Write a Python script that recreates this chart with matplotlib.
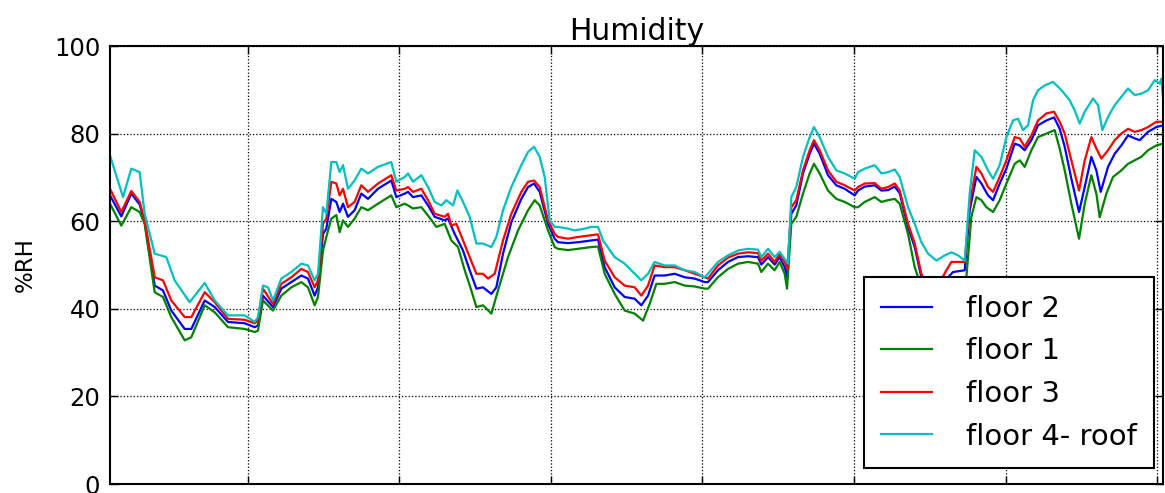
import matplotlib
matplotlib.use("Agg")
import matplotlib.pyplot as plt

# hours from start of record, %RH readings
t_floor2 = [2.14, 3.93, 5.51, 6.84, 7.63, 9.22, 10.53, 11.85, 13.97, 15.02, 17.14, 18.73, 20.83, 23.48, 25.06,
            25.58, 26.37, 27.96, 29.28, 30.86, 32.45, 33.5, 34.56, 35.09, 35.88, 36.41, 37.2, 37.99, 38.52, 39.05,
            39.84, 40.89, 41.95, 43.01, 44.59, 46.7, 47.5, 48.82,
            49.35, 50.14, 51.46, 52.52, 53.57, 55.16, 55.69, 56.74, 58.06, 59.12, 60.18, 61.23, 62.55, 63.34,
            64.4, 65.72, 67.3, 68.36, 69.31, 70.21, 71.53, 72.58,
            73.11, 74.7, 76.28, 78.39, 79.45, 80.5, 82.09, 83.67, 85.26, 86.31, 87.37, 88.42, 90.01, 91.59,
            93.18, 94.76, 96.35,
            96.87, 98.45, 100.04, 101.62, 103.21, 104.79, 105.32, 106.38, 107.43, 108.22, 109.02, 109.44,
            110.07, 110.86, 111.92, 112.98, 113.66, 114.56, 115.88, 117.2, 118.52, 120.11,
            120.64, 121.7, 123.28, 124.34, 125.39, 126.45, 127.24, 128.56, 129.62, 130.67, 132.5, 134.9,
            135.69, 137.54, 138.33, 139.39, 140.18, 141.23, 142.03, 143.08, 144.14,
            145.46, 146.25, 147.04, 148.1, 149.15, 150.47, 151.69, 152.58, 153.38, 154.43, 155.65, 156.55,
            157.6, 158.39, 159.08, 160.24, 161.3, 162.35, 163.41, 164.47, 165.26, 166.58, 167.9, 168.96]
floor2 = [65.9, 61.1, 66.3, 63.8, 59.8, 45.3, 44.2, 39.6, 35.4, 35.4, 41.9, 40.4, 37.0, 36.7, 35.8,
          36.2, 43.0, 40.4, 44.6, 46.1, 47.6, 46.9, 43.0, 44.9, 57.1, 58.3, 65.1, 64.4, 62.1, 64.0,
          61.0, 62.5, 66.3, 65.1, 67.4, 69.3, 65.5, 66.3,
          66.7, 65.5, 65.9, 63.6, 61.0, 60.2, 60.6, 57.1, 53.3, 48.8, 44.6, 44.9, 43.4, 44.9,
          52.6, 59.8, 65.1, 67.8, 68.6, 66.7, 59.4, 56.0,
          55.2, 55.0, 55.2, 55.6, 55.8, 49.5, 44.9, 42.7, 42.3, 40.8, 43.0, 47.6, 47.6, 48.0,
          47.2, 46.9, 46.1,
          46.1, 48.8, 50.7, 51.8, 52.0, 51.8, 50.1, 51.8, 50.1, 51.8, 49.5, 47.2,
          61.7, 63.6, 70.9, 75.4, 77.7, 75.4, 70.5, 68.2, 67.4, 65.9,
          67.0, 67.9, 68.2, 67.0, 67.1, 67.9, 66.4, 58.6, 54.1, 47.2, 42.0, 47.2,
          48.4, 48.8, 62.5, 70.1, 68.6, 65.9, 64.8, 68.6, 72.0,
          77.7, 77.3, 76.2, 78.5, 81.9, 83.0, 83.7, 81.1, 77.0, 69.7, 62.1, 67.8,
          74.7, 71.6, 66.7, 72.4, 75.4, 77.3, 79.6, 78.9, 78.5, 80.4, 81.5, 81.9]

t_floor1 = [2.14, 3.93, 5.51, 6.84, 7.63, 9.22, 10.53, 11.85, 13.97, 15.02, 17.14, 18.73, 20.83, 23.48, 25.06,
            25.58, 26.37, 27.96, 29.28, 30.86, 32.45, 33.5, 34.56, 35.09, 35.88, 36.41, 37.2, 37.99, 38.52, 39.05,
            39.84, 40.89, 41.95, 43.01, 44.59, 46.7, 47.5, 48.82,
            49.35, 50.14, 51.46, 52.52, 53.84, 55.16, 56.21, 57.27, 58.33, 59.38, 60.18, 61.23, 62.55, 63.61,
            65.19, 66.78, 68.36, 69.42, 70.21, 71.53, 72.58,
            73.11, 74.7, 76.28, 78.39, 79.45, 80.5, 82.09, 83.67, 85.26, 86.58, 87.63, 88.69, 90.01, 91.59,
            93.18, 94.76, 96.35,
            96.87, 98.45, 100.04, 101.62, 103.21, 104.79, 105.32, 106.38, 107.43, 108.22, 109.02, 109.39,
            110.07, 110.86, 111.92, 112.98, 113.66, 114.56, 115.88, 117.2, 118.52, 120.11,
            120.64, 121.7, 123.28, 124.34, 125.39, 126.45, 127.24, 128.56, 129.62, 130.15, 132.5, 136.0,
            137.8, 138.59, 139.39, 140.18, 140.97, 142.03, 143.08, 144.14,
            145.46, 146.25, 147.04, 148.1, 149.15, 150.47, 151.79, 152.58, 153.38, 154.43, 155.65, 156.55,
            157.6, 158.39, 158.92, 159.98, 161.03, 162.35, 163.41, 164.47, 165.52, 166.58, 167.9, 168.96]
floor1 = [64.0, 59.0, 63.2, 62.1, 59.4, 43.8, 42.7, 38.1, 32.8, 33.5, 40.8, 39.2, 35.8, 35.4, 34.7,
          35.0, 41.9, 39.6, 43.0, 44.9, 46.1, 44.9, 40.8, 42.7, 53.3, 56.4, 60.6, 61.4, 57.5, 60.2,
          58.7, 60.6, 63.2, 62.5, 64.0, 65.9, 63.2, 64.0,
          63.6, 62.9, 63.2, 61.3, 58.7, 59.4, 55.6, 54.1, 48.8, 44.2, 40.4, 40.8, 38.9, 44.2,
          51.8, 57.9, 62.5, 64.8, 63.6, 57.9, 54.1,
          53.7, 53.4, 53.7, 54.1, 54.2, 48.0, 43.4, 39.6, 38.9, 37.3, 41.1, 45.7, 45.7, 46.1,
          45.3, 45.1, 44.6,
          44.6, 47.2, 49.1, 50.3, 50.7, 50.3, 48.4, 50.3, 48.8, 50.7, 48.0, 44.6,
          59.4, 61.0, 66.3, 70.9, 73.1, 70.9, 67.0, 65.1, 64.4, 63.2,
          63.2, 64.4, 65.5, 64.4, 64.8, 65.1, 64.0, 57.1, 49.5, 47.2, 41.0, 42.0,
          47.2, 61.0, 65.5, 64.8, 63.2, 62.1, 64.8, 68.6,
          73.1, 73.9, 72.4, 76.2, 79.2, 80.0, 80.8, 76.6, 71.6, 64.0, 56.0, 64.0,
          70.5, 66.3, 60.9, 66.3, 70.1, 71.6, 73.1, 73.9, 74.7, 76.2, 77.3, 77.7]

t_floor3 = [2.14, 3.93, 5.51, 6.84, 7.63, 9.22, 10.53, 11.85, 13.97, 15.02, 17.14, 18.73, 20.83, 23.48, 25.06,
            25.58, 26.37, 27.96, 29.28, 30.86, 32.45, 33.5, 34.56, 35.09, 35.88, 36.41, 37.2, 37.99, 38.52, 39.05,
            39.84, 40.89, 41.95, 43.01, 44.59, 46.7, 47.5, 48.82,
            49.35, 50.14, 51.46, 52.52, 53.57, 55.16, 55.69, 56.21, 57.01, 58.06, 59.12, 60.18, 61.23, 62.02,
            63.08, 64.4, 65.72, 67.3, 68.36, 69.31, 70.21, 71.53, 72.58,
            73.11, 74.7, 76.28, 78.39, 79.45, 80.5, 82.09, 83.67, 85.26, 86.31, 87.37, 88.42, 90.01, 91.59,
            93.18, 94.76, 96.35,
            96.87, 98.45, 100.04, 101.62, 103.21, 104.79, 105.32, 106.38, 107.43, 108.22, 109.02, 109.44,
            110.07, 110.86, 111.92, 112.98, 113.66, 114.56, 115.88, 117.2, 118.52, 120.11,
            120.64, 121.7, 123.28, 124.34, 125.39, 126.45, 127.24, 128.56, 129.62, 130.67, 132.5, 134.63,
            135.43, 137.54, 138.33, 139.39, 140.18, 141.23, 142.03, 143.08, 144.14,
            145.46, 146.25, 147.04, 148.1, 149.15, 150.47, 151.69, 152.58, 153.38, 154.43, 155.65, 156.55,
            157.6, 158.39, 159.19, 160.24, 161.3, 162.35, 163.41, 164.47, 165.52, 166.58, 167.9, 168.96]
floor3 = [67.4, 62.1, 66.9, 64.4, 60.2, 47.2, 46.5, 41.9, 38.1, 38.1, 43.8, 41.5, 37.7, 37.5, 36.7,
          37.3, 44.6, 41.1, 45.7, 47.2, 49.1, 48.4, 44.9, 46.5, 59.4, 60.6, 69.0, 68.6, 65.9, 67.4,
          63.2, 64.4, 68.2, 66.7, 68.6, 70.5, 67.0, 67.4,
          67.8, 66.7, 67.4, 64.8, 61.7, 61.0, 61.7, 59.0, 59.4, 55.6, 51.8, 48.0, 48.0, 46.9,
          48.0, 55.6, 61.7, 66.7, 69.0, 69.3, 67.8, 60.2, 57.1,
          56.4, 56.0, 56.4, 56.8, 57.0, 51.0, 47.2, 45.3, 44.9, 43.0, 45.3, 49.9, 49.5, 49.5,
          48.8, 48.0, 47.2,
          46.9, 49.9, 51.7, 52.6, 52.9, 52.7, 51.0, 52.6, 50.7, 52.6, 50.7, 49.1,
          63.2, 64.8, 71.6, 76.2, 78.5, 76.2, 71.6, 69.0, 68.2, 67.0,
          67.8, 68.6, 68.7, 67.4, 67.8, 68.6, 67.0, 59.4, 54.9, 48.0, 43.0, 48.8,
          50.7, 50.7, 64.0, 72.4, 70.9, 67.8, 66.7, 70.1, 73.9,
          79.2, 78.9, 77.0, 79.6, 83.0, 84.6, 85.0, 82.7, 80.0, 73.9, 67.0, 73.9,
          79.2, 76.6, 74.3, 76.2, 78.5, 80.0, 81.1, 80.4, 80.8, 81.5, 82.7, 82.7]

t_floor4 = [2.14, 4.2, 5.51, 6.84, 7.63, 9.22, 11.06, 12.38, 14.76, 17.14, 18.73, 20.83, 23.48, 25.06,
            25.58, 26.37, 27.17, 27.96, 29.28, 30.86, 32.45, 33.5, 34.56, 35.09, 35.88, 36.41, 37.2, 37.99,
            38.52, 39.05, 39.84, 40.89, 41.95, 43.01, 44.59, 46.7, 47.5, 48.82,
            49.35, 50.14, 51.46, 52.52, 53.57, 54.63, 55.42, 56.48, 57.17, 58.06, 59.12, 60.18, 61.23, 62.55,
            63.34, 64.4, 65.72, 67.3, 68.36, 69.31, 70.21, 71.0, 71.79, 72.58,
            73.11, 74.7, 75.75, 77.34, 78.39, 79.45, 80.24, 82.09, 83.67, 85.26, 86.31, 87.37, 88.42, 90.01,
            91.59, 93.18, 94.76, 96.35,
            96.87, 98.45, 100.04, 101.62, 103.21, 104.79, 105.32, 106.38, 107.43, 108.22, 109.02, 109.54,
            110.07, 110.86, 111.92, 112.98, 113.66, 114.56, 115.88, 117.2, 118.52, 120.11,
            120.64, 121.7, 123.28, 124.34, 125.39, 126.45, 127.24, 128.56, 129.62, 130.67, 131.73, 133.05,
            134.37, 135.43, 136.48, 137.54, 138.33, 139.12, 140.18, 141.23, 142.03, 143.08, 144.14,
            145.19, 145.98, 146.78, 147.57, 148.36, 149.15, 150.21, 151.53, 152.32, 153.11, 154.17, 154.96,
            155.75, 156.55, 157.87, 158.66, 159.34, 160.24, 161.3, 162.35, 163.41, 164.47, 165.52, 166.58,
            167.64, 168.43, 168.69, 168.96]
floor4 = [75.0, 65.5, 72.0, 71.2, 61.7, 52.6, 51.8, 46.5, 41.5, 45.9, 41.9, 38.5, 38.5, 37.0,
          38.1, 45.3, 44.9, 41.9, 46.9, 48.4, 50.3, 49.9, 46.5, 48.0, 63.2, 61.7, 73.5, 73.5,
          71.2, 72.8, 67.4, 69.3, 72.0, 70.9, 72.4, 73.5, 69.0, 70.1,
          70.9, 69.0, 70.5, 67.8, 64.4, 63.6, 64.8, 63.6, 67.0, 64.4, 61.0, 54.9, 54.9, 54.1,
          56.4, 62.5, 67.8, 72.8, 75.8, 77.0, 74.7, 70.1, 60.2, 58.7,
          58.7, 58.3, 57.9, 58.3, 58.7, 58.7, 55.6, 51.8, 50.3, 48.0, 46.5, 48.0, 50.7, 49.9,
          49.9, 48.8, 48.4, 47.2,
          48.0, 50.7, 52.2, 53.3, 53.7, 53.5, 51.8, 53.7, 51.8, 53.0, 51.4, 50.3,
          65.5, 67.8, 74.7, 79.2, 81.5, 79.2, 74.7, 71.6, 70.9, 69.7,
          71.2, 72.0, 72.8, 70.9, 71.2, 71.8, 70.1, 63.2, 59.4, 55.2, 52.6, 51.0,
          52.2, 52.9, 52.2, 51.0, 66.3, 76.2, 74.7, 71.6, 69.7, 72.8, 79.2,
          83.0, 83.4, 80.8, 81.9, 87.6, 89.9, 91.0, 91.8, 90.7, 89.5, 87.6, 85.3,
          82.3, 85.0, 88.0, 86.5, 80.8, 83.8, 86.5, 88.4, 90.3, 88.8, 89.1, 89.9,
          92.2, 91.4, 92.5, 88.0]

fig = plt.figure(figsize=(11.65, 4.93), dpi=100)
ax = fig.add_axes([110 / 1165, 9 / 493, 1053 / 1165, 438 / 493])

ax.plot(t_floor2, floor2, color="b", lw=1.6, label="floor 2")
ax.plot(t_floor1, floor1, color="g", lw=1.6, label="floor 1")
ax.plot(t_floor3, floor3, color="r", lw=1.6, label="floor 3")
ax.plot(t_floor4, floor4, color="c", lw=1.6, label="floor 4- roof")

ax.set_xlim(2.14, 168.95)
ax.set_ylim(0, 100)
ax.set_xticks(range(24, 169, 24))
ax.set_xticklabels([])
ax.set_yticks(range(0, 101, 20))
ax.tick_params(axis="both", direction="in", length=6, width=1, top=True, right=True,
               labelsize=17.5, pad=7)
ax.grid(True, linestyle=":", color="k", lw=0.9)
for sp in ax.spines.values():
    sp.set_linewidth(1.5)

ax.set_title("Humidity", fontsize=21.5, pad=2)
ax.set_ylabel("%RH", fontsize=16.5, labelpad=12)

leg = ax.legend(loc="lower right", bbox_to_anchor=(0.9915, 0.0365), fontsize=21,
                fancybox=False, framealpha=1, edgecolor="k", borderaxespad=0,
                handlelength=1.75, handletextpad=1.15, borderpad=0.6, labelspacing=0.5)
leg.get_frame().set_linewidth(1.5)

fig.savefig("out.png", dpi=100)
